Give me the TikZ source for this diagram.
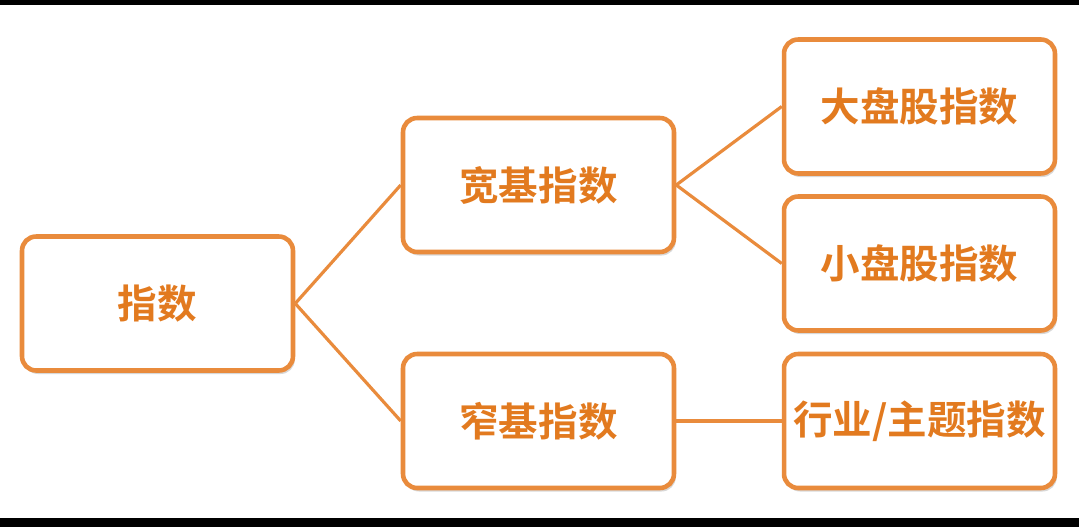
\documentclass[tikz,border=0pt]{standalone}
\usepackage{fontspec}
\newfontfamily\cjk{Noto Sans CJK SC}[BoldFont={Noto Sans CJK SC Bold}]
\usetikzlibrary{shadows}
\definecolor{ob}{HTML}{E98B3C}
\definecolor{ot}{HTML}{E27A1F}
\begin{document}
\begin{tikzpicture}[x=0.02cm,y=-0.02cm,
  box/.style={draw=ob,line width=2.6pt,rounded corners=8pt,fill=white,
    minimum width=5.42cm,minimum height=2.68cm,text=ot,
    font=\cjk\bfseries\fontsize{22.5}{25}\selectfont,inner sep=0pt,
    drop shadow={shadow xshift=1pt,shadow yshift=-2pt,opacity=0.3}},
  link/.style={draw=ob,line width=1.8pt}]
\useasboundingbox (0,0) rectangle (1079,527);
\fill[white] (0,0) rectangle (1079,527);
\fill[black] (0,0) rectangle (1079,5);
\fill[black] (0,518) rectangle (1079,527);
\node[box] (root) at (157.5,303.5) {指数};
\node[box] (wide) at (538.5,185) {宽基指数};
\node[box] (narrow) at (538.5,421) {窄基指数};
\node[box] (big) at (919.5,106.5) {大盘股指数};
\node[box] (small) at (919.5,263.5) {小盘股指数};
\node[box] (ind) at (919.5,421) {行业/主题指数};
\draw[link] (root.east) -- (wide.west);
\draw[link] (root.east) -- (narrow.west);
\draw[link] (wide.east) -- (big.west);
\draw[link] (wide.east) -- (small.west);
\draw[link] (narrow.east) -- (ind.west);
\end{tikzpicture}
\end{document}
